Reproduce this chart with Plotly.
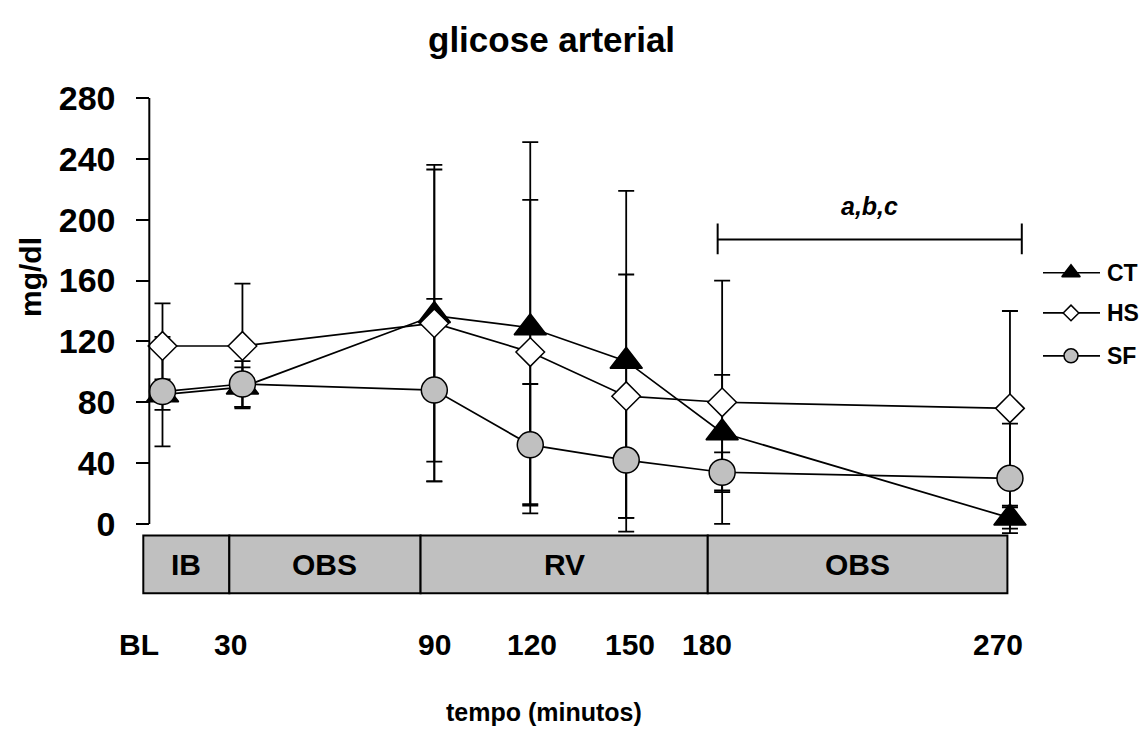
import plotly.graph_objects as go

# ---- dados: glicose arterial (mg/dl), média e desvio padrão ----
tempo = [5, 30, 90, 120, 150, 180, 270]
rotulos_tempo = ["BL", "30", "90", "120", "150", "180", "270"]

ct_media = [85, 90, 137, 129, 107, 60, 4]
ct_dp = [10, 13, 96, 122, 112, 38, 7]

hs_media = [117, 117, 132, 113, 84, 80, 76]
hs_dp = [28, 41, 104, 100, 80, 80, 64]

sf_media = [87, 92, 88, 52, 42, 34, 30]
sf_dp = [36, 15, 60, 40, 38, 13, 36]

fases = ["IB", "OBS", "RV", "OBS"]
fases_limites = [-1.0, 25.9, 85.7, 175.5, 269.2]

y_ticks = [0, 40, 80, 120, 160, 200, 240, 280]

# ---- geometria da figura (pixels) ----
W, H = 1145, 729
PX_LEFT, PX_RIGHT, PX_TOP, PX_BOTTOM = 140, 1035, 80, 600
X0_PX, X_PER_MIN = 146.5, 3.198      # pixel do minuto 0 e escala horizontal
Y0_PX, Y_PER_UNIT = 521.7, 1.5382    # pixel de 0 mg/dl e escala vertical

x_range = [(PX_LEFT - X0_PX) / X_PER_MIN, (PX_RIGHT - X0_PX) / X_PER_MIN]
y_range = [(Y0_PX - PX_BOTTOM) / Y_PER_UNIT, (Y0_PX - PX_TOP) / Y_PER_UNIT]


def fx(px):
    return px / W


def fy(py):
    return 1 - py / H


def val_y(py):
    return (Y0_PX - py) / Y_PER_UNIT


def min_para_paper(minutos):
    return fx(X0_PX + X_PER_MIN * minutos)


FONT = "Liberation Sans, Arial, Helvetica, sans-serif"
CINZA = "#C0C0C0"

series = [
    dict(nome="CT", media=ct_media, dp=ct_dp, simbolo="triangle-up", tam=28,
         cor="black", tam_leg=16),
    dict(nome="HS", media=hs_media, dp=hs_dp, simbolo="diamond", tam=22,
         cor="white", tam_leg=12),
    dict(nome="SF", media=sf_media, dp=sf_dp, simbolo="circle", tam=26,
         cor=CINZA, tam_leg=14),
]

fig = go.Figure()

# barras de erro (por baixo de linhas e marcadores)
for s in series:
    fig.add_trace(go.Scatter(
        x=tempo, y=s["media"], mode="markers",
        marker=dict(size=1, color="rgba(0,0,0,0)"),
        error_y=dict(type="data", array=s["dp"], visible=True, color="black",
                     thickness=1.8, width=8),
        showlegend=False, hoverinfo="skip", cliponaxis=False,
    ))

# linhas que ligam as médias
for s in series:
    fig.add_trace(go.Scatter(
        x=tempo, y=s["media"], mode="lines",
        line=dict(color="black", width=1.7),
        showlegend=False, hoverinfo="skip", cliponaxis=False,
    ))

# marcadores
for s in series:
    fig.add_trace(go.Scatter(
        x=tempo, y=s["media"], mode="markers", name=s["nome"],
        marker=dict(symbol=s["simbolo"], size=s["tam"], color=s["cor"],
                    line=dict(color="black", width=1.5)),
        showlegend=False, cliponaxis=False,
    ))

# legenda desenhada num eixo auxiliar em coordenadas de pixel
leg_y = [267.7, 308.3, 351.7]
for s, ly in zip(series, leg_y):
    fig.add_trace(go.Scatter(
        x=[1043, 1100], y=[ly, ly], mode="lines",
        line=dict(color="black", width=1.7),
        xaxis="x2", yaxis="y2", showlegend=False, hoverinfo="skip",
    ))
    fig.add_trace(go.Scatter(
        x=[1071], y=[ly], mode="markers",
        marker=dict(symbol=s["simbolo"], size=s["tam_leg"], color=s["cor"],
                    line=dict(color="black", width=1.5)),
        xaxis="x2", yaxis="y2", showlegend=False, hoverinfo="skip",
    ))

shapes = []
annotations = []


def texto(txt, x, y, size, xref="paper", yref="paper", xanchor="center", **font_extra):
    annotations.append(dict(text=txt, x=x, y=y, xref=xref, yref=yref,
                            xanchor=xanchor, yanchor="middle", showarrow=False,
                            font=dict(family=FONT, size=size, color="black",
                                      weight="bold", **font_extra)))


# faixa das fases do protocolo
faixa_topo, faixa_base = val_y(533.3), val_y(591.7)
for i, fase in enumerate(fases):
    x0, x1 = fases_limites[i], fases_limites[i + 1]
    shapes.append(dict(type="rect", xref="x", yref="y", x0=x0, x1=x1,
                       y0=faixa_base, y1=faixa_topo, fillcolor=CINZA,
                       line=dict(color="black", width=2), layer="below"))
    texto(fase, (x0 + x1) / 2, (faixa_topo + faixa_base) / 2, 30, xref="x", yref="y")

# linha do eixo y (0 a 280)
shapes.append(dict(type="line", xref="paper", yref="y", x0=fx(149.3), x1=fx(149.3),
                   y0=0, y1=280, line=dict(color="black", width=2)))

# chave de significância 180-270
sig_x0, sig_x1, sig_y = 178.6, 273.7, val_y(234)
shapes.append(dict(type="line", xref="x", yref="y", x0=sig_x0, x1=sig_x1,
                   y0=sig_y, y1=sig_y, line=dict(color="black", width=2)))
for xs in (sig_x0, sig_x1):
    shapes.append(dict(type="line", xref="x", yref="y", x0=xs, x1=xs,
                       y0=val_y(249), y1=val_y(218), line=dict(color="black", width=2)))
texto("a,b,c", (sig_x0 + sig_x1) / 2, val_y(200), 25, xref="x", yref="y", style="italic")

# rótulos do tempo
pos_rotulos = [-2.3, 26.4, 89.9, 120.6, 151.2, 175.3, 266.2]
for txt, xp in zip(rotulos_tempo, pos_rotulos):
    texto(txt, min_para_paper(xp), fy(644), 30)

# textos da legenda
for s, ly in zip(series, leg_y):
    texto(s["nome"], fx(1105), fy(ly), 23, xanchor="left")

# título e títulos dos eixos
texto("glicose arterial", fx(551.5), fy(32), 35)
annotations.append(dict(text="mg/dl", x=fx(30), y=fy(272), xref="paper", yref="paper",
                        xanchor="center", yanchor="middle", textangle=-90, showarrow=False,
                        font=dict(family=FONT, size=30, color="black", weight="bold")))
texto("tempo (minutos)", fx(544), fy(712), 25)

fig.update_layout(
    width=W, height=H,
    margin=dict(l=0, r=0, t=0, b=0),
    paper_bgcolor="white", plot_bgcolor="rgba(0,0,0,0)",
    showlegend=False,
    xaxis=dict(domain=[fx(PX_LEFT), fx(PX_RIGHT)], range=x_range, visible=False,
               anchor="y"),
    yaxis=dict(domain=[fy(PX_BOTTOM), fy(PX_TOP)], range=y_range,
               anchor="free", position=fx(149.3),
               showline=False, showgrid=False, zeroline=False,
               tickvals=y_ticks, ticks="outside", ticklen=13, tickwidth=2,
               tickcolor="black", ticklabelstandoff=14,
               tickfont=dict(family=FONT, size=34, color="black", weight="bold")),
    xaxis2=dict(domain=[0, 1], range=[0, W], visible=False, anchor="y2"),
    yaxis2=dict(domain=[0, 1], range=[H, 0], visible=False, anchor="x2"),
    shapes=shapes,
    annotations=annotations,
)

fig.write_html("out.html")
